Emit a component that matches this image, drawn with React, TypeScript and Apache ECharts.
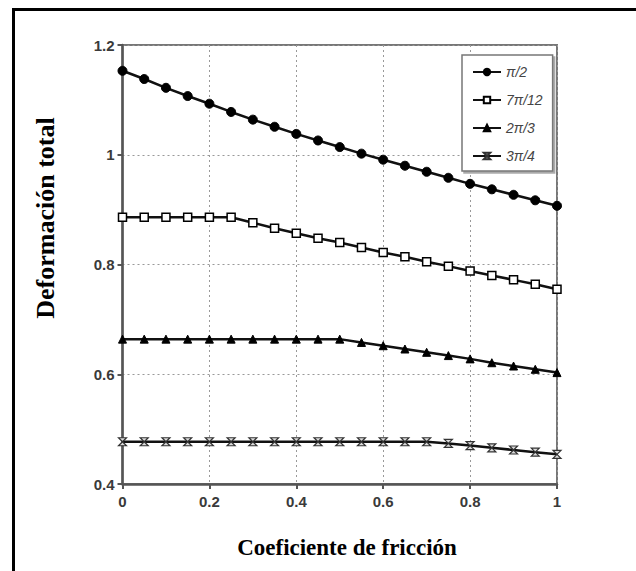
import React, { useEffect, useRef } from "react";
import * as echarts from "echarts";

const xValues = [0, 0.05, 0.1, 0.15, 0.2, 0.25, 0.3, 0.35, 0.4, 0.45, 0.5, 0.55, 0.6, 0.65, 0.7, 0.75, 0.8, 0.85, 0.9, 0.95, 1];
const seriesNames = ["π/2", "7π/12", "2π/3", "3π/4"];
const halfPi = [1.153, 1.138, 1.122, 1.107, 1.093, 1.078, 1.064, 1.051, 1.038, 1.026, 1.014, 1.002, 0.991, 0.98, 0.969, 0.958, 0.947, 0.937, 0.927, 0.917, 0.907];
const sevenPi12 = [0.886, 0.886, 0.886, 0.886, 0.886, 0.886, 0.876, 0.866, 0.857, 0.848, 0.84, 0.831, 0.822, 0.814, 0.805, 0.797, 0.788, 0.78, 0.772, 0.764, 0.755];
const twoPi3 = [0.664, 0.664, 0.664, 0.664, 0.664, 0.664, 0.664, 0.664, 0.664, 0.664, 0.664, 0.658, 0.652, 0.646, 0.64, 0.634, 0.628, 0.621, 0.615, 0.609, 0.603];
const threePi4 = [0.477, 0.477, 0.477, 0.477, 0.477, 0.477, 0.477, 0.477, 0.477, 0.477, 0.477, 0.477, 0.477, 0.477, 0.477, 0.474, 0.47, 0.466, 0.462, 0.458, 0.454];
const xTitle = "Coeficiente de fricción";
const yTitle = "Deformación total";

const allSeries = [halfPi, sevenPi12, twoPi3, threePi4];
const markers = [
  { symbol: "circle", size: 9, fill: "#000", stroke: "#000", bw: 1 },
  { symbol: "rect", size: 8, fill: "#fff", stroke: "#000", bw: 1.5 },
  { symbol: "triangle", size: 8, fill: "#000", stroke: "#000", bw: 1 },
  { symbol: "path://M0,0L10,0L0,10L10,10Z", size: 8, fill: "#ddd", stroke: "#333", bw: 1.2 },
];

export default function App() {
  const ref = useRef<HTMLDivElement>(null);
  useEffect(() => {
    if (!ref.current) return;
    const chart = echarts.init(ref.current, null, { renderer: "svg" });
    const axisFont = { fontSize: 15, fontWeight: "bold", color: "#3a3a3a", fontFamily: "Liberation Sans" };
    chart.setOption({
      animation: false,
      backgroundColor: "#fff",
      grid: { left: 122.5, right: 79, top: 45, bottom: 87, show: true, borderColor: "#777", borderWidth: 2, backgroundColor: "#fff" },
      xAxis: {
        type: "value", min: 0, max: 1, interval: 0.2,
        axisLine: { lineStyle: { color: "#555", width: 2.5 } },
        axisTick: { show: true, length: 5, lineStyle: { color: "#555", width: 2 } },
        axisLabel: { ...axisFont, margin: 10 },
        splitLine: { show: true, lineStyle: { type: [2, 3], color: "#999", width: 1 } },
      },
      yAxis: {
        type: "value", min: 0.4, max: 1.2, interval: 0.2,
        axisLine: { show: true, lineStyle: { color: "#555", width: 2.5 } },
        axisTick: { show: true, length: 5, lineStyle: { color: "#555", width: 2 } },
        axisLabel: { ...axisFont, margin: 8 },
        splitLine: { show: true, lineStyle: { type: [2, 3], color: "#999", width: 1 } },
      },
      legend: {
        orient: "vertical", left: 462, top: 55,
        padding: [10, 10, 8, 10], itemGap: 14, itemWidth: 28, itemHeight: 8,
        backgroundColor: "#fff", borderColor: "#777", borderWidth: 1.5,
        shadowColor: "#aaa", shadowOffsetX: 2, shadowOffsetY: 2, shadowBlur: 0,
        textStyle: { fontStyle: "italic", fontSize: 14, color: "#444", fontFamily: "Liberation Sans", lineHeight: 14 },
        data: seriesNames,
      },
      series: allSeries.map((vals, i) => ({
        name: seriesNames[i],
        type: "line",
        data: vals.map((v, j) => [xValues[j], v]),
        symbol: markers[i].symbol,
        symbolSize: markers[i].size,
        showAllSymbol: true,
        lineStyle: { color: "#111", width: 2.5 },
        itemStyle: { color: markers[i].fill, borderColor: markers[i].stroke, borderWidth: markers[i].bw },
        z: 3,
      })),
      graphic: [
        { type: "rect", shape: { x: 13.5, y: 9.5, width: 800, height: 800 }, style: { fill: "none", stroke: "#000", lineWidth: 3 }, z: 100 },
        { type: "text", x: 347, y: 547, style: { text: xTitle, font: 'bold 23px "Liberation Serif"', textAlign: "center", textVerticalAlign: "middle", fill: "#000" } },
        { type: "text", x: 45, y: 218, rotation: Math.PI / 2, style: { text: yTitle, font: 'bold 26px "Liberation Serif"', textAlign: "center", textVerticalAlign: "middle", fill: "#000" } },
      ],
    });
    return () => chart.dispose();
  }, []);
  return <div ref={ref} style={{ position: "fixed", left: 0, top: 0, width: 636, height: 571 }} />;
}
